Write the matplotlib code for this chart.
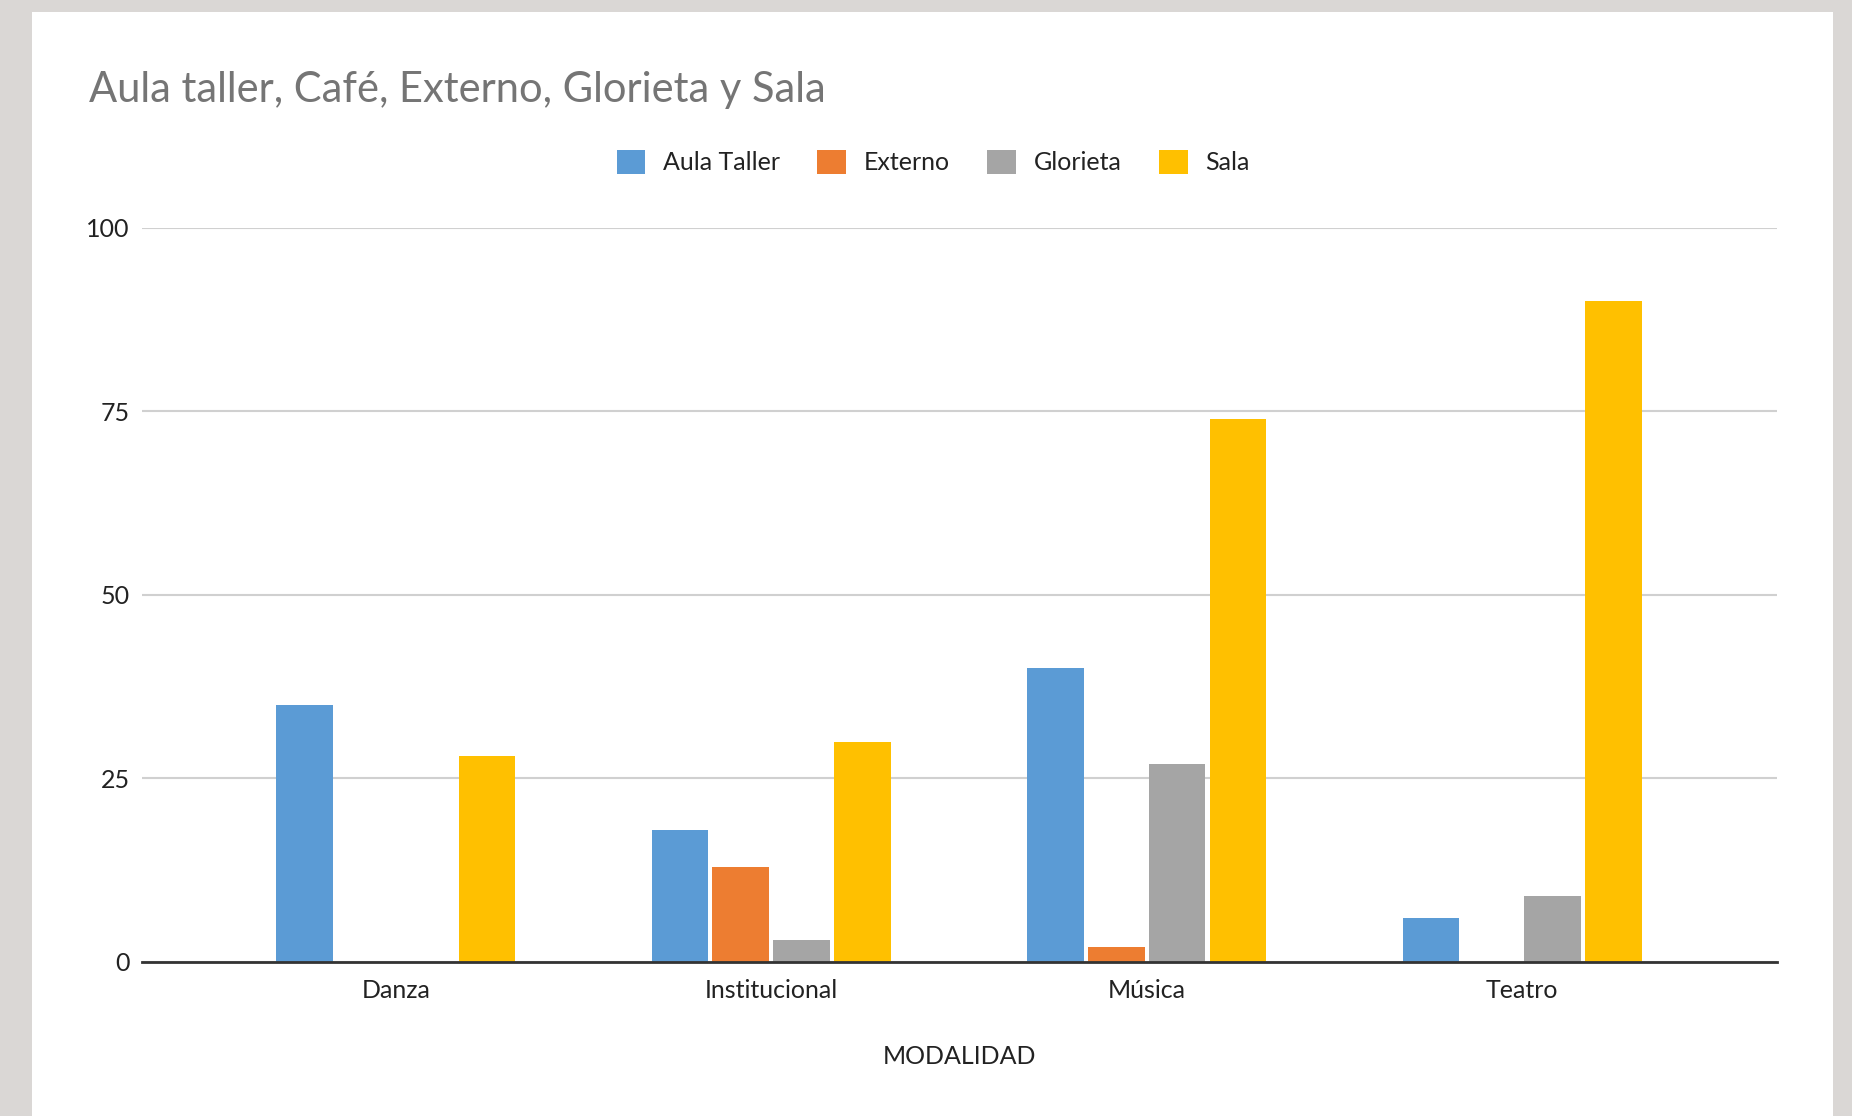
import numpy as np
import matplotlib
matplotlib.use("Agg")
import matplotlib.pyplot as plt
from matplotlib.patches import Rectangle

# datos
modalidades = ["Danza", "Institucional", "Música", "Teatro"]
series = ["Aula Taller", "Externo", "Glorieta", "Sala"]
aula_taller = [35, 18, 40, 6]
externo = [0, 13, 2, 0]
glorieta = [0, 3, 27, 9]
sala = [28, 30, 74, 90]
colores = ["#5b9bd5", "#ed7d31", "#a5a5a5", "#ffc000"]
yticks = [0, 25, 50, 75, 100]

plt.rcParams['font.family'] = ['Lato', 'DejaVu Sans']

fig = plt.figure(figsize=(18.52, 11.16), dpi=100)
fig.patch.set_facecolor("#dad7d5")
# panel blanco
panel = Rectangle((32/1852, 0), (1833-32)/1852, 1-12/1116,
                  transform=fig.transFigure, facecolor="white",
                  edgecolor="none", zorder=-5)
fig.add_artist(panel)

ax = fig.add_axes([0.0767, 0.138, 0.8828, 0.6577])
ax.set_facecolor("white")

x = np.arange(len(modalidades))
ancho = 0.151
paso = 0.162
valores = [aula_taller, externo, glorieta, sala]
for i, (nombre, vals) in enumerate(zip(series, valores)):
  ax.bar(x + (i - 1.5) * paso, vals, width=ancho, color=colores[i], label=nombre, zorder=3)

ax.set_xlim(-0.676, 3.679)
ax.set_ylim(0, 100)
ax.set_yticks(yticks)
ax.set_xticks(x)
ax.set_xticklabels(modalidades)
ax.tick_params(axis='both', length=0, labelsize=18, colors="#222222")
ax.tick_params(axis='y', pad=9)
ax.tick_params(axis='x', pad=12)
ax.grid(axis='y', color="#d0d0d0", linewidth=1.5, zorder=0)
for s in ["top", "right", "left"]:
  ax.spines[s].set_visible(False)
ax.spines["bottom"].set_color("#333333")
ax.spines["bottom"].set_linewidth(2)
ax.spines["bottom"].set_zorder(4)

ax.set_xlabel("MODALIDAD", fontsize=18, color="#222222", labelpad=31)

fig.text(89/1852, 1 - 90/1116, "Aula taller, Café, Externo, Glorieta y Sala",
         fontsize=30, color="#757575", va="center", ha="left")

fig.legend(loc="center", bbox_to_anchor=(933/1852, 1 - 162/1116), ncol=4, frameon=False,
           fontsize=18, handlelength=1.15, handleheight=1.15, handletextpad=0.7,
           columnspacing=1.5, labelcolor="#222222")

fig.savefig("out.png", dpi=100, facecolor=fig.get_facecolor())
